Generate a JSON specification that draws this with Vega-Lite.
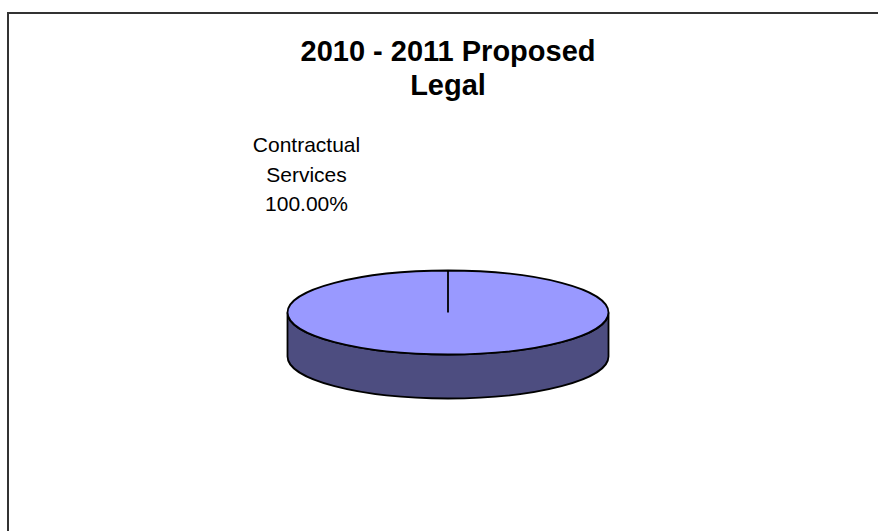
{
  "$schema": "https://vega.github.io/schema/vega-lite/v6.json",
  "width": 880,
  "height": 599,
  "autosize": {"type": "none"},
  "padding": {"left": 8, "top": 13, "right": -10, "bottom": -81},
  "background": "white",
  "view": {"style": "cell", "stroke": "#333333", "strokeWidth": 2, "fill": "white"},
  "title": {
    "text": ["2010 - 2011 Proposed", "Legal"],
    "font": "Liberation Sans",
    "fontSize": 29,
    "fontWeight": "bold",
    "color": "black",
    "anchor": "middle",
    "baseline": "alphabetic",
    "lineHeight": 34,
    "offset": -111
  },
  "config": {
    "view": {"stroke": "#333333", "strokeWidth": 2}
  },
  "data": {
    "values": [
      {"category": "Contractual Services", "value": 100, "label": "Contractual\nServices\n100.00%"}
    ]
  },
  "layer": [
    {
      "mark": {
        "type": "point",
        "shape": "M-1 0L-1 0.274C-1 0.4185 -0.5523 0.5357 0 0.5357C0.5523 0.5357 1 0.4185 1 0.274L1 0C1 0.1445 0.5523 0.2617 0 0.2617C-0.5523 0.2617 -1 0.1445 -1 0Z",
        "size": 103041,
        "filled": true,
        "fill": "#4D4D80",
        "stroke": "black",
        "strokeWidth": 1.8,
        "opacity": 1
      },
      "encoding": {}
    },
    {
      "mark": {
        "type": "point",
        "shape": "M-1 0C-1 -0.1445 -0.5523 -0.2617 0 -0.2617C0.5523 -0.2617 1 -0.1445 1 0C1 0.1445 0.5523 0.2617 0 0.2617C-0.5523 0.2617 -1 0.1445 -1 0ZM0 0L0 -0.2617",
        "size": 103041,
        "filled": true,
        "fill": "#9999FF",
        "stroke": "black",
        "strokeWidth": 1.8,
        "opacity": 1
      },
      "encoding": {}
    },
    {
      "mark": {
        "type": "text",
        "font": "Liberation Sans",
        "fontSize": 21,
        "lineHeight": 29.5,
        "lineBreak": "\n",
        "align": "center",
        "baseline": "alphabetic",
        "dx": -141.5,
        "dy": -160.5,
        "color": "black"
      },
      "encoding": {"text": {"field": "label"}}
    }
  ]
}
